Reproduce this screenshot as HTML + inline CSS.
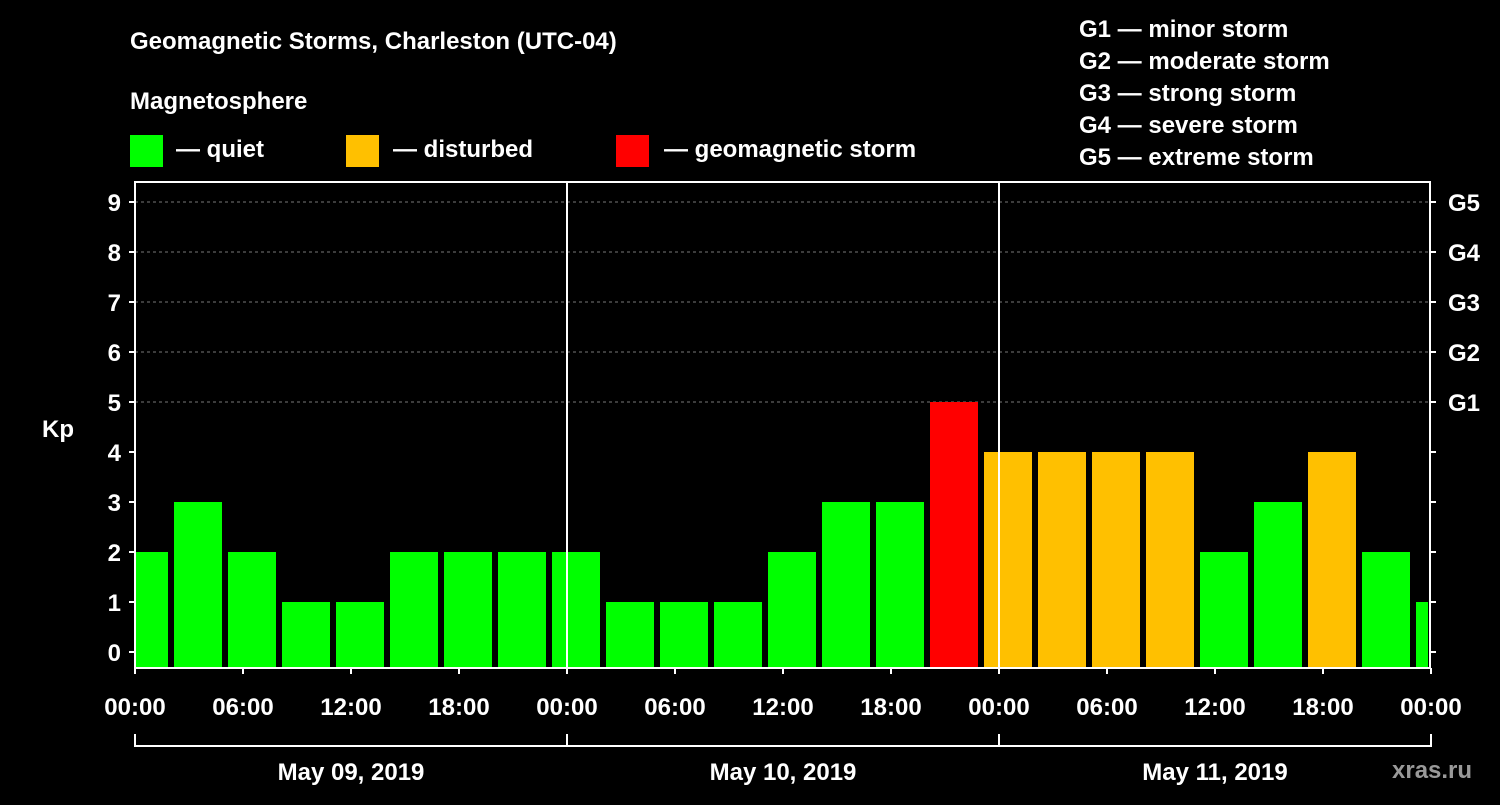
<!DOCTYPE html>
<html><head><meta charset="utf-8"><style>
body{margin:0;background:#000;width:1500px;height:800px;overflow:hidden}
svg text{font-family:"Liberation Sans",Arial,sans-serif;font-weight:bold;fill:#fff}
</style></head><body>
<svg id="chart" width="1500" height="800" xmlns="http://www.w3.org/2000/svg">
<text x="130" y="49" font-size="24">Geomagnetic Storms, Charleston (UTC-04)</text>
<text x="130" y="109" font-size="24">Magnetosphere</text>
<g>
<rect x="130" y="135" width="33" height="32" fill="#00ff00"/>
<text x="176" y="157" font-size="24">— quiet</text>
<rect x="346" y="135" width="33" height="32" fill="#ffc000"/>
<text x="393" y="157" font-size="24">— disturbed</text>
<rect x="616" y="135" width="33" height="32" fill="#ff0000"/>
<text x="664" y="157" font-size="24">— geomagnetic storm</text>
</g>
<g font-size="24">
<text x="1079" y="37">G1 — minor storm</text>
<text x="1079" y="69">G2 — moderate storm</text>
<text x="1079" y="101">G3 — strong storm</text>
<text x="1079" y="133">G4 — severe storm</text>
<text x="1079" y="165">G5 — extreme storm</text>
</g>
<text x="42" y="437" font-size="24">Kp</text>
<text x="1392" y="778" font-size="24" fill="#888" style="fill:#999">xras.ru</text>
<g id="plot"></g>
</svg>
<script>
const kpValues=[2,3,2,1,1,2,2,2,2,1,1,1,2,3,3,5,4,4,4,4,2,3,4,2,1];
const startHours=[-1,2,5,8,11,14,17,20,23,26,29,32,35,38,41,44,47,50,53,56,59,62,65,68,71];
const dayLabels=["May 09, 2019","May 10, 2019","May 11, 2019"];
const timeLabels=["00:00","06:00","12:00","18:00"];
const gLabels=["G1","G2","G3","G4","G5"];
const NS="http://www.w3.org/2000/svg";
const X0=135,X1=1430,YT=182,YB=668;
const xs=h=>X0+h*18;
const ys=k=>652-50*k;
const plot=document.getElementById('plot');
function mk(t,a){const e=document.createElementNS(NS,t);for(const k in a)e.setAttribute(k,a[k]);plot.appendChild(e);return e;}
// grid
for(let k=5;k<=9;k++){const l=mk('line',{x1:X0,x2:X1,y1:ys(k),y2:ys(k),stroke:'#777','stroke-dasharray':'3,3'});

}
// bars
kpValues.forEach((v,i)=>{
 const a=Math.max(xs(startHours[i])+3,X0+1),b=Math.min(xs(startHours[i]+3)-3,X1-2);
 const c=v>=5?'#ff0000':v>=4?'#ffc000':'#00ff00';
 const r=mk('rect',{x:a,y:ys(v),width:b-a,height:YB-ys(v),fill:c});
 
 
});
// day separators
[1,2].forEach(d=>{const l=mk('line',{x1:xs(24*d),x2:xs(24*d),y1:YT,y2:YB,stroke:'#fff','stroke-width':2});

});
// frame
const f=mk('rect',{x:X0,y:YT,width:X1-X0,height:YB-YT,fill:'none',stroke:'#fff','stroke-width':2});


// y ticks
for(let k=0;k<=9;k++){
 mk('line',{x1:X0-6,x2:X0,y1:ys(k),y2:ys(k),stroke:'#fff','stroke-width':2});
 mk('line',{x1:X1,x2:X1+6,y1:ys(k),y2:ys(k),stroke:'#fff','stroke-width':2});
 const t=mk('text',{x:X0-14,y:ys(k)+9,'font-size':24,'text-anchor':'end'});t.textContent=k;
 
 
 if(k>=5){const g=mk('text',{x:X1+18,y:ys(k)+9,'font-size':24});g.textContent=gLabels[k-5];
 
 }
}
// x ticks
for(let h=0;h<=72;h+=6){
 mk('line',{x1:xs(h),x2:xs(h),y1:YB,y2:YB+6,stroke:'#fff','stroke-width':2});
 const t=mk('text',{x:xs(h),y:715,'font-size':24,'text-anchor':'middle'});t.textContent=timeLabels[(h/6)%4];
 
 
}
// day brackets
mk('line',{x1:xs(0),x2:xs(72),y1:746,y2:746,stroke:'#fff','stroke-width':2});
for(let d=0;d<=3;d++)mk('line',{x1:xs(24*d),x2:xs(24*d),y1:734,y2:747,stroke:'#fff','stroke-width':2});
dayLabels.forEach((s,d)=>{const t=mk('text',{x:xs(24*d+12),y:780,'font-size':24,'text-anchor':'middle'});t.textContent=s;

});
</script>
</body></html>
